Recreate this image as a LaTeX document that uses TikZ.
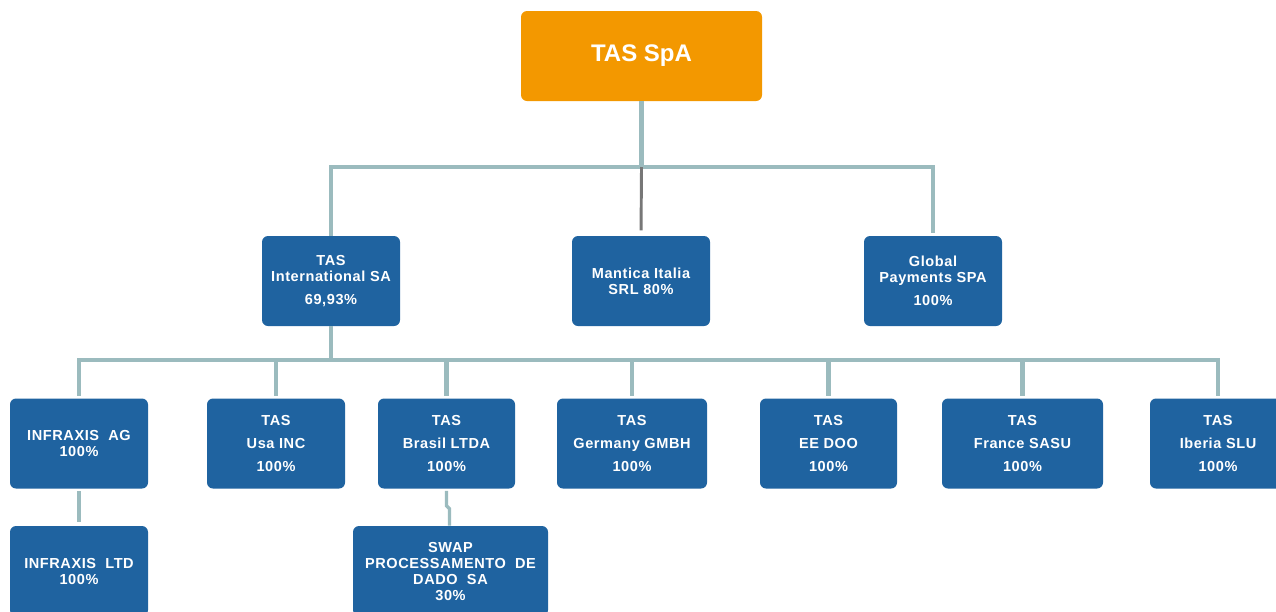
\documentclass[tikz,border=0pt]{standalone}
\usepackage{fontspec}
\setmainfont{Liberation Sans}
\newfontfamily\boxfam{Liberation Sans}[LetterSpace=4]
\definecolor{orgorange}{HTML}{F39800}
\definecolor{orgblue}{HTML}{1F63A0}
\definecolor{linkteal}{HTML}{9BBBBE}
\definecolor{linkgray}{HTML}{777777}
\newcommand{\bxfont}{\boxfam\bfseries\fontsize{10.9}{12}\selectfont}
\tikzset{
  orgbox/.style={fill=orgblue, rounded corners=4.5pt, text=white, font=\bxfont,
    align=center, inner sep=0pt, minimum height=67.5pt},
  wd/.style={minimum width={#1*0.75pt}},
  link/.style={draw=linkteal, line width=3.2pt},
  glink/.style={draw=linkgray, line width=2.2pt},
}
\begin{document}
\begin{tikzpicture}[x=0.75pt,y=-0.75pt]
\useasboundingbox (0,0) rectangle (1276,611);
% top
\node[fill=orgorange, rounded corners=4.5pt, text=white, font=\bfseries\fontsize{18}{21}\selectfont,
  minimum width={241*0.75pt}, minimum height=67.5pt, inner sep=0pt] (top) at (641.5,56) {TAS SpA};
% level 2
\node[orgbox, wd=138] (intl) at (331,281) {TAS\\International SA\\[5.25pt]69,93\%};
\node[orgbox, wd=138] (mant) at (641,281) {Mantica Italia\\SRL 80\%};
\node[orgbox, wd=138] (glob) at (933,281) {Global\\Payments SPA\\[5.25pt]100\%};
% level 3
\node[orgbox, wd=138] (infag) at (79,443.5) {INFRAXIS~~AG\\100\%};
\node[orgbox, wd=138] (usa) at (276,443.5) {TAS\\[5.25pt]Usa INC\\[5.25pt]100\%};
\node[orgbox, wd=137] (bra) at (446.5,443.5) {TAS\\[5.25pt]Brasil LTDA\\[5.25pt]100\%};
\node[orgbox, wd=150] (ger) at (632,443.5) {TAS\\[5.25pt]Germany GMBH\\[5.25pt]100\%};
\node[orgbox, wd=137] (ee) at (828.5,443.5) {TAS\\[5.25pt]EE DOO\\[5.25pt]100\%};
\node[orgbox, wd=161] (fra) at (1022.5,443.5) {TAS\\[5.25pt]France SASU\\[5.25pt]100\%};
\node[orgbox, wd=136] (ibe) at (1218,443.5) {TAS\\[5.25pt]Iberia SLU\\[5.25pt]100\%};
% level 4
\node[orgbox, wd=138] (infltd) at (79,571) {INFRAXIS~~LTD\\100\%};
\node[orgbox, wd=195] (swap) at (450.5,571) {SWAP\\PROCESSAMENTO~~DE\\DADO~~SA\\30\%};
% connectors level 1
\coordinate (bus1) at (641.5,167);
\draw[link] (top.south) -- (bus1);
\draw[link, shorten >=2pt] (intl.north) |- (bus1) -| (glob.north);
\draw[glink, shorten >=4pt] (bus1) -- (mant.north);
% connectors level 2
\coordinate (bus2) at (331,360);
\draw[link] (intl.south) -- (bus2);
\draw[link, shorten >=2pt, shorten <=2pt] (infag.north) |- (bus2) -| (ibe.north);
\foreach \n in {usa,bra,ger,ee,fra}
  \draw[link, shorten >=2pt] (\n.north |- bus2) -- (\n.north);
% level 3 to 4
\draw[link, shorten <=2pt, shorten >=3pt] (infag.south) -- (infltd.north);
\draw[link, line width=2.5pt] (bra.south) ++(0,2) -- ++(0,15) -- ++(3,3) coordinate (jog) -- (jog |- swap.north);
\end{tikzpicture}
\end{document}
